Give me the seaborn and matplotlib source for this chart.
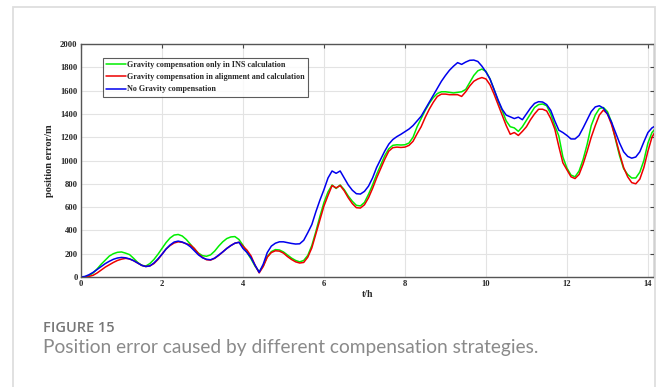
import numpy as np
import pandas as pd
import matplotlib.pyplot as plt
import seaborn as sns
from matplotlib.patches import Rectangle
from matplotlib.lines import Line2D

# time axis (h), one sample every 0.1 h
t = np.round(np.arange(0, 14.21, 0.1), 1)

# Gravity compensation only in INS calculation
green = [0, 3, 12, 35, 70, 110, 145, 180, 200, 212,
         215, 205, 192, 160, 125, 100, 94, 115, 150, 195,
         245, 295, 335, 360, 365, 352, 322, 282, 240, 205,
         183, 178, 190, 222, 265, 302, 330, 344, 347, 322,
         272, 210, 155, 92, 45, 95, 175, 218, 235, 232,
         215, 188, 162, 142, 130, 142, 185, 270, 390, 520,
         640, 730, 790, 760, 790, 750, 695, 650, 615, 610,
         640, 710, 790, 880, 960, 1040, 1100, 1130, 1135, 1133,
         1135, 1150, 1200, 1290, 1360, 1430, 1490, 1540, 1575, 1590,
         1590, 1585, 1580, 1585, 1590, 1610, 1670, 1730, 1770, 1785,
         1765, 1700, 1610, 1510, 1430, 1340, 1290, 1280, 1250, 1290,
         1345, 1400, 1455, 1480, 1485, 1470, 1400, 1300, 1210, 1030,
         935, 875, 860, 910, 1010, 1140, 1300, 1390, 1445, 1455,
         1420, 1330, 1180, 1040, 930, 880, 850, 850, 900, 1000,
         1150, 1240, 1280]

# Gravity compensation in alignment and calculation
red = [0, 0, 5, 15, 35, 60, 85, 105, 125, 142,
       153, 160, 155, 140, 120, 100, 90, 95, 115, 150,
       195, 240, 270, 292, 302, 298, 285, 275, 245, 200,
       168, 148, 145, 160, 185, 215, 245, 270, 290, 298,
       265, 230, 180, 100, 35, 90, 170, 210, 225, 222,
       205, 175, 150, 130, 120, 125, 170, 250, 370, 490,
       610, 700, 785, 765, 785, 740, 680, 630, 595, 592,
       620, 680, 760, 850, 930, 1010, 1080, 1110, 1115, 1112,
       1115, 1130, 1165, 1230, 1290, 1370, 1440, 1500, 1550, 1570,
       1570, 1565, 1565, 1565, 1550, 1590, 1640, 1680, 1700, 1712,
       1700, 1650, 1570, 1480, 1390, 1300, 1225, 1240, 1215, 1250,
       1290, 1350, 1400, 1440, 1440, 1425, 1360, 1270, 1120, 980,
       920, 860, 845, 880, 970, 1080, 1200, 1300, 1390, 1433,
       1400, 1310, 1190, 1060, 940, 860, 810, 800, 840, 940,
       1080, 1200, 1260]

# No Gravity compensation
blue = [0, 5, 20, 40, 65, 90, 115, 135, 152, 163,
        168, 165, 155, 140, 120, 100, 90, 95, 120, 155,
        195, 240, 275, 300, 308, 300, 285, 260, 225, 190,
        165, 152, 148, 162, 188, 215, 245, 270, 290, 298,
        245, 210, 165, 100, 40, 110, 210, 265, 290, 302,
        302, 295, 288, 283, 285, 315, 380, 450, 560, 660,
        750, 850, 910, 890, 910, 850, 790, 745, 715, 712,
        735, 780, 850, 940, 1010, 1080, 1140, 1180, 1205, 1225,
        1247, 1270, 1300, 1340, 1380, 1440, 1500, 1560, 1620, 1680,
        1730, 1775, 1810, 1840, 1825, 1845, 1860, 1862, 1850, 1810,
        1760, 1700, 1610, 1520, 1440, 1390, 1375, 1360, 1372, 1350,
        1400, 1450, 1490, 1505, 1502, 1480, 1430, 1340, 1260, 1240,
        1215, 1185, 1185, 1215, 1280, 1350, 1420, 1460, 1470, 1450,
        1400, 1330, 1240, 1150, 1075, 1035, 1020, 1030, 1075, 1160,
        1240, 1280, 1300]

labels = ["Gravity compensation only in INS calculation",
          "Gravity compensation in alignment and calculation",
          "No Gravity compensation"]
colors = ["#00ee00", "#ee0000", "#0000ee"]
x_ticks = [0, 2, 4, 6, 8, 10, 12, 14]
y_ticks = [0, 200, 400, 600, 800, 1000, 1200, 1400, 1600, 1800, 2000]

sns.set_style("whitegrid")
plt.rcParams["font.family"] = ["Liberation Serif", "DejaVu Serif"]

fig = plt.figure(figsize=(6.56, 3.87), dpi=100)

# light card border around the figure
fig.patches.append(Rectangle((13 / 656, -0.01), 642 / 656, (387 - 6.5) / 387 + 0.01,
                             transform=fig.transFigure, fill=False,
                             edgecolor="#dedede", linewidth=1.3))

ax = fig.add_axes([81 / 656, 110 / 387, 573 / 656, 233 / 387])

for series, c in zip([green, red, blue], colors):
    sns.lineplot(x=t, y=series, color=c, linewidth=1.1, ax=ax)

ax.set_xlim(0, 14.15)
ax.set_ylim(0, 2000)
ax.set_xticks(x_ticks)
ax.set_yticks(y_ticks)
ax.set_xticklabels([str(v) for v in x_ticks], fontsize=6.2, fontweight="bold")
ax.set_yticklabels([str(v) for v in y_ticks], fontsize=6.2, fontweight="bold")
ax.tick_params(direction="in", length=3, width=0.8, color="#444444",
               top=True, right=True, pad=2.5)
ax.grid(True, color="#e3e3e3", linewidth=0.8)
for s in ax.spines.values():
    s.set_color("#555555")
    s.set_linewidth(1.0)

ax.set_xlabel("t/h", fontsize=7, fontweight="bold", labelpad=1)
ax.set_ylabel("position error/m", fontsize=7.5, fontweight="bold", labelpad=4)

handles = [Line2D([], [], color=c, linewidth=1.1) for c in colors]
leg = ax.legend(handles, labels, loc="upper left", bbox_to_anchor=(0.038, 0.94),
                borderaxespad=0, prop={"weight": "bold", "size": 5.85},
                frameon=True, fancybox=False, handlelength=2.4,
                handletextpad=0.2, borderpad=0.4, labelspacing=0.5)
leg.get_frame().set_edgecolor("#333333")
leg.get_frame().set_linewidth(0.8)

fig.text(43 / 656, 1 - 332 / 387, "FIGURE 15", fontsize=10.5, color="#777777",
         fontweight="semibold", family="Open Sans")
fig.text(43 / 656, 1 - 353 / 387,
         "Position error caused by different compensation strategies.",
         fontsize=13.8, color="#8a8a8a", family="Lato")

plt.savefig("out.png", dpi=100)
